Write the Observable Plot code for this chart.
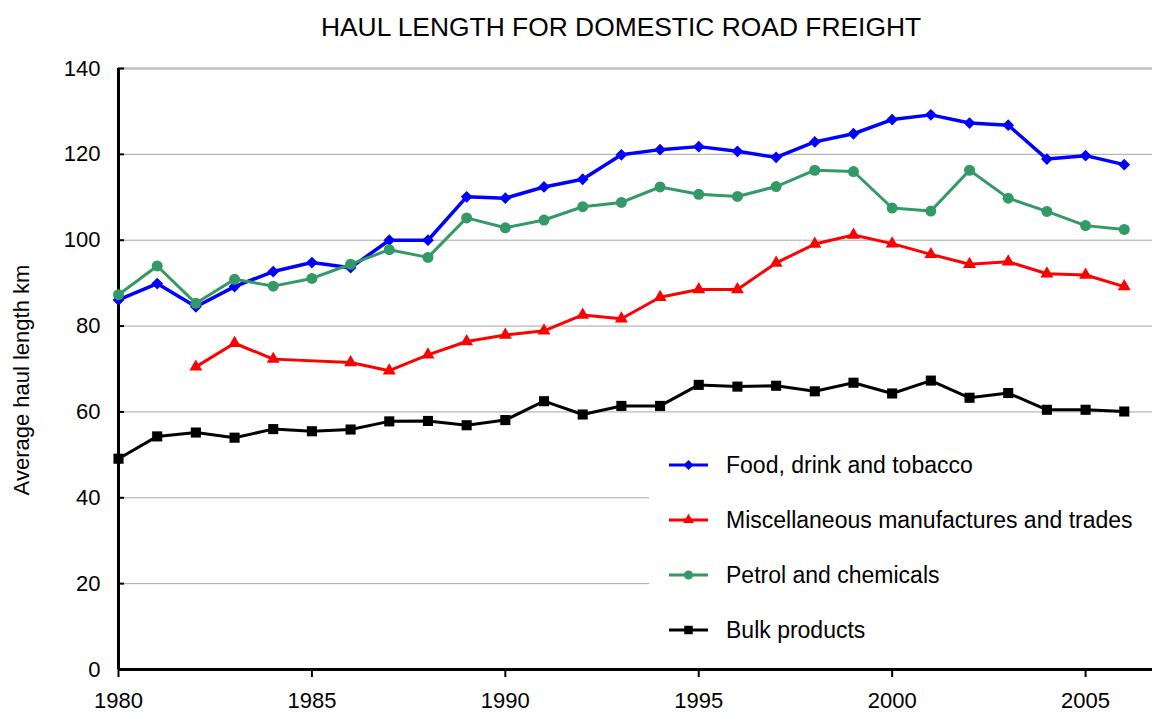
<!DOCTYPE html>
<html>
<head>
<meta charset="utf-8">
<script src="https://cdn.jsdelivr.net/npm/d3@7"></script>
<script src="https://cdn.jsdelivr.net/npm/@observablehq/plot@0.6"></script>
<style>
  body { margin: 0; background: #fff; font-family: "Liberation Sans", Arial, sans-serif; }
  #wrap { position: relative; width: 1152px; height: 713px; overflow: hidden; background: #fff; }
  #chart { position: absolute; left: 0; top: 0; }
  #title { position: absolute; left: 621px; top: 14px; transform: translateX(-50%); white-space: nowrap;
           font-size: 26.4px; line-height: 26px; color: #000; }
  #ylabel { position: absolute; left: 22px; top: 380px; transform: translate(-50%, -50%) rotate(-90deg);
            white-space: nowrap; font-size: 22px; line-height: 22px; color: #000; }
  #legend { position: absolute; left: 649px; top: 438px; width: 503px; height: 226px; background: #fff; }
  .row { position: absolute; left: 0; height: 30px; line-height: 30px; font-size: 23px; color: #000; white-space: nowrap; }
  .row svg { position: absolute; left: 20px; top: 5px; }
  .row span { position: absolute; left: 77px; top: 0; }
</style>
</head>
<body>
<div id="wrap">
  <div id="chart"></div>
  <div id="title"></div>
  <div id="ylabel"></div>
  <div id="legend"></div>
</div>
<script>
const titleText = "HAUL LENGTH FOR DOMESTIC ROAD FREIGHT";
const yLabelText = "Average haul length km";

const years = [1980, 1981, 1982, 1983, 1984, 1985, 1986, 1987, 1988, 1989, 1990, 1991, 1992, 1993,
               1994, 1995, 1996, 1997, 1998, 1999, 2000, 2001, 2002, 2003, 2004, 2005, 2006];

const food   = [86.1, 89.9, 84.5, 89.2, 92.7, 94.8, 93.6, 100.0, 100.0, 110.1, 109.8, 112.4, 114.2, 119.9,
                121.1, 121.8, 120.7, 119.3, 122.9, 124.8, 128.1, 129.2, 127.3, 126.8, 118.9, 119.7, 117.6];
const misc   = [null, null, 70.5, 76.0, 72.3, null, 71.5, 69.6, 73.3, 76.4, 77.9, 78.9, 82.6, 81.7,
                86.7, 88.5, 88.5, 94.7, 99.1, 101.2, 99.2, 96.7, 94.4, 95.0, 92.2, 91.9, 89.2];
const petrol = [87.3, 94.0, 85.3, 90.9, 89.3, 91.1, 94.4, 97.8, 96.0, 105.2, 102.9, 104.7, 107.8, 108.8,
                112.4, 110.7, 110.2, 112.5, 116.3, 116.0, 107.5, 106.8, 116.3, 109.8, 106.7, 103.4, 102.5];
const bulk   = [49.1, 54.3, 55.2, 54.0, 56.0, 55.5, 55.9, 57.8, 57.9, 56.9, 58.1, 62.5, 59.4, 61.4,
                61.4, 66.3, 65.9, 66.1, 64.8, 66.8, 64.3, 67.3, 63.3, 64.4, 60.5, 60.5, 60.1];

const seriesNames = ["Food, drink and tobacco", "Miscellaneous manufactures and trades",
                     "Petrol and chemicals", "Bulk products"];
const seriesValues = [food, misc, petrol, bulk];

const yTicks = [0, 20, 40, 60, 80, 100, 120, 140];
const xTicks = [1980, 1985, 1990, 1995, 2000, 2005];

// styles
const seriesColors = ["#0000ff", "#ff0000", "#339966", "#000000"];
const seriesSymbols = ["diamond2", "triangle", "circle", "square"];
const seriesR = [5.3, 4.8, 5.5, 5.7];
const seriesWidths = [3.5, 3, 3, 3];

document.getElementById("title").textContent = titleText;
document.getElementById("ylabel").textContent = yLabelText;

const W = 1152, H = 713, mL = 118, mR = 0, mT = 68, mB = 44;

const marks = [
  Plot.ruleY(yTicks.filter(t => t > 0 && t < 140), {y: d => d, stroke: "#a6a6a6", strokeWidth: 1}),
  Plot.ruleY(yTicks.filter(t => t === 140), {y: d => d, stroke: "#c0c0c0", strokeWidth: 2.5}),
  Plot.axisY(yTicks, {tickSize: 0, tickPadding: 18, fontSize: 22, label: null}),
  Plot.tickY(yTicks, {y: d => d, stroke: "#000", strokeWidth: 2, insetRight: W - mL - mR - 6}),
  Plot.axisX(xTicks, {tickSize: 8, tickPadding: 15, tickFormat: "d", fontSize: 22, label: null, strokeWidth: 2}),
  Plot.ruleX([1980], {x: d => d, stroke: "#000", strokeWidth: 3}),
  Plot.ruleY([0], {y: d => d, stroke: "#000", strokeWidth: 3})
];

seriesNames.forEach((name, i) => {
  const data = years.map((yr, j) => ({year: yr, value: seriesValues[i][j], series: name}))
                    .filter(d => d.value != null);
  marks.push(Plot.line(data, {x: "year", y: "value", stroke: seriesColors[i], strokeWidth: seriesWidths[i],
                              strokeLinejoin: "round"}));
  marks.push(Plot.dot(data, {x: "year", y: "value", symbol: seriesSymbols[i], r: seriesR[i],
                             fill: seriesColors[i], stroke: "none"}));
});

const chart = Plot.plot({
  width: W, height: H,
  marginLeft: mL, marginRight: mR, marginTop: mT, marginBottom: mB,
  x: {domain: [1980, 2006.73]},
  y: {domain: [0, 140]},
  style: {fontFamily: '"Liberation Sans", Arial, sans-serif', fontSize: "22px", color: "#000", background: "#fff", overflow: "visible"},
  marks
});
document.getElementById("chart").appendChild(chart);

// legend
const legend = d3.select("#legend");
const rowCenters = [27, 82, 137, 192];
const symbolMap = {diamond2: d3.symbolDiamond2, triangle: d3.symbolTriangle, circle: d3.symbolCircle, square: d3.symbolSquare};
seriesNames.forEach((name, i) => {
  const row = legend.append("div").attr("class", "row").style("top", (rowCenters[i] - 15) + "px");
  const svg = row.append("svg").attr("width", 40).attr("height", 20);
  svg.append("line").attr("x1", 0).attr("x2", 39).attr("y1", 10).attr("y2", 10)
     .attr("stroke", seriesColors[i]).attr("stroke-width", 3);
  svg.append("path").attr("transform", "translate(19.5,10)")
     .attr("d", d3.symbol(symbolMap[seriesSymbols[i]], Math.PI * seriesR[i] * seriesR[i] * 0.7)())
     .attr("fill", seriesColors[i]);
  row.append("span").text(name);
});
</script>
</body>
</html>
